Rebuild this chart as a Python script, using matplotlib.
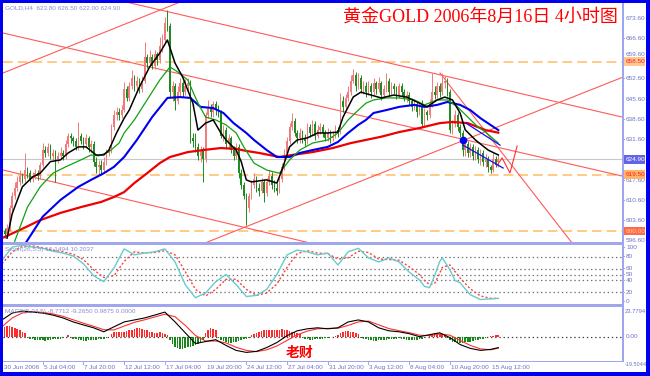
import matplotlib
matplotlib.use("Agg")
import matplotlib.pyplot as plt
from matplotlib.patches import Rectangle

plt.rcParams['lines.scale_dashes'] = False

# ---------------- data ----------------
date_labels = ["30 Jun 2006", "5 Jul 04:00", "7 Jul 20:00", "12 Jul 12:00", "17 Jul 04:00",
               "19 Jul 20:00", "24 Jul 12:00", "27 Jul 04:00", "31 Jul 20:00", "3 Aug 12:00",
               "8 Aug 04:00", "10 Aug 20:00", "15 Aug 12:00"]
price_ticks = [673.60, 666.60, 659.60, 652.60, 645.60, 638.60, 631.60, 617.60, 610.60, 603.60, 596.60]

opens = [599.5,600,599,601,608,612,615,617,619,618,621,620,618,619,620,619,
         623,628,627,629,626,627,625,626,627,626,630,633,632,631,629,633,
         631,630,632,629,630,624,622,623,621,624,627,628,636,640,641,640,
         642,649,646,650,653,650,652,649,652,660,658,660,657,661,659,664,
         666,672,671,648,650,645,648,651,648,650,651,632,631,629,626,628,
         625,640,643,641,644,642,641,633,635,630,632,628,626,629,620,616,
         612,608,612,616,618,615,614,617,613,617,619,616,615,614,618,622,
         627,631,636,638,634,632,634,632,631,636,634,637,633,635,636,634,
         632,634,632,633,635,634,645,643,646,648,652,654,650,653,649,650,
         648,650,648,651,649,651,647,649,652,648,650,649,647,650,648,646,
         647,645,643,644,641,643,637,641,640,644,648,647,650,648,651,652,
         648,635,637,640,636,634,628,630,627,629,626,628,625,627,624,625,
         622,621,625,623.8]
closes = [600,599,601,608,612,615,617,619,618,621,620,618,619,620,619,623,
          628,627,629,626,627,625,626,627,626,630,633,632,631,629,633,631,
          630,632,629,630,624,622,623,621,624,627,628,636,640,641,640,642,
          649,646,650,653,650,652,649,652,660,658,660,657,661,659,664,666,
          672,671,648,650,645,648,651,648,650,651,632,631,629,626,628,625,
          640,643,641,644,642,641,633,635,630,632,628,626,629,620,616,612,
          608,612,616,618,615,614,617,613,617,619,616,615,614,618,622,627,
          631,636,638,634,632,634,632,631,636,634,637,633,635,636,634,632,
          634,632,633,635,634,645,643,646,648,652,654,650,653,649,650,648,
          650,648,651,649,651,647,649,652,648,650,649,647,650,648,646,647,
          645,643,644,641,643,637,641,640,644,648,647,650,648,651,652,648,
          635,637,640,636,634,628,630,627,629,626,628,625,627,624,625,622,
          621,625,623,624.9]
highs = [601.5,601,602.5,609,613.5,617,619,621,620,627,622,621,620.5,621.5,621,624,
         630.4,629.5,630.5,630,628.5,628,627.5,629,628,631.5,634,634,633,632,637.7,634,
         632.5,633.5,633,631.5,631,625.5,624.5,624.5,625.5,628.5,629.5,637,642,643,642.5,643.5,
         651.5,650,651.5,655.6,654,653.5,653,653.5,665.3,661,662.6,661,662.5,662,667,668,
         674,676.4,672,652,651,650,653,652,652.5,653,652.2,634,633.9,630.5,629.5,629,
         641,645.3,644,645,645,643.5,642,636.5,636,633.5,633,629.5,630.5,630,621.5,617,
         613,613,617.5,620,619,616.5,618.5,618,618.5,621,620.5,617.5,616.5,619.5,623.5,628.5,
         632.5,637.5,640.8,639,635,635.5,635,633.5,637.5,637,638.4,638,636.5,637.5,637,635,
         635.5,635,634.5,636.5,636,647.7,646.5,647.5,650,654,656,655,654.5,654,652,651.5,
         652,651,653,652,653.2,652,650.5,654.6,653,651.5,651,650,651,651,649,648.5,
         648,646,645.5,645,644.5,645.3,642.5,642,645.5,654.6,650,651.5,651,654.5,653.5,653,
         649,638.5,641.8,641,637,635,631.5,631,630.5,630,629.5,629,628.5,628,626.5,626,
         623,627,626,626.5]
lows = [597.6,597.8,598,600,607,611,614,616,616.5,617,618.5,617,617,618,617.5,618,
        622,625.5,626,625,624.5,617,623.5,625,624.5,625,629,630.5,629.5,628,628,630,
        628.5,629,627.5,627,622.5,620,619.4,619.5,620,623,626,627,635,638.5,638.5,639,
        641,645,645,649,648.5,648,647.7,648,651,656.5,657,656,656,657.5,658,662,
        665,669,646,645,641.8,644,646.5,646.3,647,648.5,630.4,629,627.5,624.5,624,617,
        624,639,639.5,639.5,640,639.5,632,631,628.5,628.5,627,624.6,625,618.5,614.5,611,
        602,606.5,611,615,613.5,612,613,610.1,612,616,614.5,613.5,612.5,613,617,621,
        626,630,635,633,630.5,630.5,630.5,629.5,630,632.5,633,631.5,632,633.5,632.5,631,
        631,630.5,631,632,632.5,633.5,641,642,645,647,651,648.5,649,647.7,647.5,646.3,
        647,646,647,647.5,648,645.3,646,648,646.5,647,647.5,645.5,646,646.5,645,644.5,
        643.5,641.5,642,639.5,640,635.6,636,638.4,639,643,645.5,646,646.3,647,649.5,646.5,
        633.9,633.5,636,634.5,632.5,626,626,625.5,625.6,624.6,624.5,623.5,623,622.5,622,620.4,
        620,620.5,622,622]

# moving averages (bar index, value)
ma_black_idx = [2,4,8,12,15,19,23,26,30,33,37,40,42,45,48,50,54,58,62,65,68,71,75,77,80,83,86,88,92,94,96,98,
                104,108,110,113,116,120,124,128,132,134,138,141,145,149,154,159,164,167,171,174,177,180,182,186,191,195]
ma_black = [597.6,606,615.3,618.7,620,624,624.6,627,629.1,629.1,626.3,626.3,628,633.9,639,641.8,649.8,656.7,661.5,
            666,658,653.2,644.2,634.9,637.3,638.4,633.9,631.5,628,624,617.7,617,617.7,616.6,621.1,629.1,631.5,
            632.2,633.9,633.9,634.2,639.4,646.3,648,647,646,647,646.3,644.2,642.9,645.3,646.3,645.3,640.8,635,
            631.5,628,626.3]
ma_green_idx = [5,10,15,20,25,31,35,38,42,46,48,52,57,62,66,69,73,77,80,84,88,92,95,99,104,109,113,117,122,128,
                132,136,140,143,146,151,156,162,166,171,175,179,183,187,190,195]
ma_green = [596.5,608.3,615.3,620,622.2,624.6,626.3,626,627.4,630.4,633.9,638.4,645.3,652.2,656.7,655,652.2,644.2,
            639.4,638.4,636.7,633.9,629.1,623.5,621.1,620,624.6,628,630.4,631.5,633.9,638.4,641.8,644.2,645.3,646,
            646,645.3,643.6,645.3,645.3,642.9,639.4,636,634.2,630.4]
ma_blue_idx = [9,16,23,30,35,40,44,48,53,59,65,70,74,78,83,87,91,96,99,104,108,113,117,122,128,132,136,140,143,
               146,151,156,162,166,171,175,180,184,188,195]
ma_blue = [595.5,605,610.8,615.3,617.7,620,622.2,625.6,631.5,639.4,646,646.3,646,642.9,642.5,640.8,637.3,633.9,
           631.5,628,625.6,625.6,627,628,629.1,630.8,633.9,636.7,638.4,640.8,641.8,642.9,643.6,642.9,643.6,644.6,
           643.6,641.8,639,634.9]
ma_red_idx = [0,7,15,23,31,39,44,48,52,57,62,66,73,79,86,92,96,101,109,114,122,130,137,143,149,156,164,172,177,
              183,190,195]
ma_red = [597.6,600.4,603.8,606.3,608.3,610.1,611.8,613.5,616.6,620,623.5,625.6,627.3,628,628.7,628.4,627.7,627,
          625.6,626.3,627.3,628.7,630.4,631.5,632.6,634.2,635.6,637.3,637.7,637.3,634.9,634]

# horizontal levels
levels = [658.50, 619.50, 600.00]
level_labels = ["658.50", "619.50", "600.00"]
last_price = 624.90

# stochastic (26,5,5)
stoch_idx = [0,4,8,12,16,20,24,28,32,36,40,44,48,52,56,60,64,68,72,76,80,84,88,92,96,100,104,108,112,116,
             120,124,128,132,136,140,144,148,152,156,160,164,166,168,170,172,173,176,178,180,184,188,192,195]
stoch_main = [74,96,99,96,94,89,86,81,68,48,38,61,93,83,86,88,93,71,33,11,19,38,50,33,13,15,25,50,83,91,
              88,83,86,66,88,94,78,71,78,71,54,41,30,28,48,72,78,58,40,36,16,8,9,10]
stoch_sig = [68,88,97,98,95,91,88,84,75,58,45,48,72,88,86,87,90,83,55,25,14,25,42,42,25,15,19,34,62,85,
             90,86,85,76,78,89,87,76,75,74,63,50,40,33,35,52,62,66,55,44,26,14,10,10]
stoch_levels = [80, 60, 50, 40, 20]

# MACD
macd_idx = [0,4,8,12,16,20,24,28,32,36,40,44,48,52,56,60,64,68,72,76,80,84,88,92,96,100,104,108,112,116,
            120,124,128,132,136,140,144,148,152,156,160,164,168,172,176,180,184,188,192,195]
macd_main = [13.4,18.9,20.5,19.7,18.9,17.3,15,11.8,9.4,7.1,3.9,7.9,11.8,13.4,15,17.3,19.7,11.8,3.1,-5.5,
             -3.9,-2.4,-7,-11,-12.6,-11.8,-8.7,-4.7,0.8,4.7,6.3,7.1,6.3,7.1,11.8,13.4,11.8,7.1,4.7,3.9,
             2.4,0,1.6,3.1,-0.8,-6.3,-9.4,-11,-10.2,-8.77]
macd_sig = [8,15,19,20,19.5,18.2,16.3,13.5,10.8,8.3,5.6,5.4,8.5,11.5,13.5,15.8,18,16,9,1,
            -3.5,-3.5,-5,-8.5,-11,-12,-10.5,-7.5,-3,1.5,4.5,6.3,6.6,6.8,9,11.8,12.5,9.5,6.5,4.8,
            3.2,1.2,0.8,2.2,1.2,-3,-7,-9.8,-10.5,-9.27]
macd_hist = [6,8,8.7,8.5,8,7,6,5,4,3,-1,-1.5,-2,-2.5,-2.5,-3,
             -3,-3.5,-3,-2.5,-2,-2,-1.5,-1.5,-1,-0.5,1,-0.5,-1.5,-2,-2.5,-3,
             -3.5,-3.5,-3,-3,-2.5,-2.5,-2,-2,-1.5,-1,-0.5,2,3.5,4,4,3.5,
             4,4.5,5,5,6,7,7,6.5,5.5,5,4,3.5,3,3,3.5,3,
             2.5,1.5,-3,-6,-8,-9,-9.5,-9.5,-9,-8.5,-8,-7.5,-7,-6,-4.5,-3,
             3,5,7,6.5,5,-1,-2.5,-3.5,-4.5,-5,-5,-4.5,-4,-3.5,-3,-2,
             -1.5,-1,1,2,3,4,4.5,5,5.5,5.5,5.5,5,5,5.5,6,5.5,
             5,4.5,4,3.5,3,2,-1,-1.5,-2,-2.5,-2.5,-2,-2,-1.5,-1.5,-1,
             -1,-0.5,-0.5,0.5,1,3,4,4.5,4.5,4,3.5,3,2,-1,-1.5,-2,
             -2.5,-3,-3.5,-3.5,-3,-3,-2.5,-2.5,-2,-2,-1.5,-1.5,-1,-1.5,-2,-2.5,
             -3,-3,-2.5,-2.5,-2,-1.5,-1,-0.5,1.5,2.5,3,3,2.5,2,1.5,-1,
             -3,-4,-4.5,-5,-5,-5,-4.5,-4.5,-4,-3.5,-3,-2.5,-2,-1.5,-1,-0.5,
             0.5,0.8,1,1]
macd_top, macd_bottom = 23.7794, -19.5044

# trend lines: (bar index, price) endpoints
trend_lines = [((0.39, 668.42), (243.6, 619.04)),
               ((0.39, 688.97), (243.6, 639.41)),
               ((0.39, 621.12), (121.0, 595.91)),
               ((0.39, 654.61), (71.9, 679.8)),
               ((79.76, 595.91), (243.6, 653.05)),
               ((172.1, 654.61), (224.0, 595.91))]
zig_idx = [194.5, 196.5, 199.6, 202.4]
zig_val = [622.6, 625.3, 620.1, 629.4]
blue_chan = [((182.3, 637.3), (195.7, 629.7)), ((181.1, 629.7), (196.9, 621.8))]
dot_idx, dot_val = 181, 631.5

# ---------------- layout helpers ----------------
W, H = 650, 376
fig = plt.figure(figsize=(6.5, 3.76), dpi=100)
fig.patch.set_facecolor('white')

def px_axes(l, t, r, b):
    ax = fig.add_axes([l / W, 1 - b / H, (r - l) / W, (b - t) / H])
    ax.set_axis_off()
    ax.patch.set_alpha(0)
    return ax

def ftext(x, y, s, **kw):
    fig.text(x / W, 1 - y / H, s, **kw)

def frect(l, t, r, b, color, z=10):
    fig.patches.append(Rectangle((l / W, 1 - b / H), (r - l) / W, (b - t) / H,
                                 transform=fig.transFigure, facecolor=color,
                                 edgecolor='none', zorder=z))

X0, DX = 2.0, 2.545
LEFT, RIGHT = 3, 622
XLIM = ((LEFT - X0) / DX, (RIGHT - X0) / DX)
LABX = 626

def py(p):
    return 18 + (673.6 - p) * 2.896

AXIS_C = '#6e72c8'
SEP_C = '#9fa6ee'
TFONT = ['Liberation Sans', 'DejaVu Sans']
FS = 4.6

# ---------------- main price panel ----------------
ax = px_axes(LEFT, 3, RIGHT, 243)
ax.set_xlim(*XLIM)
ax.set_ylim(673.6 - 225 / 2.896, 673.6 + 15 / 2.896)

for lv in levels:
    ax.axhline(lv, color='#ffc67a', lw=1.3, ls=(0, (7, 3.6)), zorder=1)
ax.axhline(last_price, color='#c8c8c8', lw=0.8, zorder=1)

for (a, b) in trend_lines:
    ax.plot([a[0], b[0]], [a[1], b[1]], color='#ff5a5a', lw=0.8, zorder=2)

n = len(closes)
for i in range(n):
    o, c, h, l = opens[i], closes[i], highs[i], lows[i]
    col = '#f37a7a' if c >= o else '#1f8a1f'
    ax.plot([i, i], [l, h], color=col, lw=0.7, zorder=3, solid_capstyle='butt')
    bh = c - o if abs(c - o) > 0.3 else 0.3
    ax.bar(i, bh, bottom=o, width=0.62, color=col, edgecolor='none', zorder=3)

ax.plot(ma_red_idx, ma_red, color='#ee0000', lw=1.6, zorder=4)
ax.plot(ma_blue_idx, ma_blue, color='#0000ee', lw=1.5, zorder=4)
ax.plot(ma_green_idx, ma_green, color='#12a012', lw=0.9, zorder=4)
ax.plot(ma_black_idx, ma_black, color='#000000', lw=1.1, zorder=5)

ax.plot(zig_idx, zig_val, color='#ff3030', lw=0.8, zorder=5)
for (a, b) in blue_chan:
    ax.plot([a[0], b[0]], [a[1], b[1]], color='#1010ff', lw=0.9, zorder=5)
ax.plot([dot_idx], [dot_val], 'o', color='#0000ff', ms=4.5, zorder=6)

# ---------------- stochastic panel ----------------
ax2 = px_axes(LEFT, 245, RIGHT, 304)
ax2.set_xlim(*XLIM)
ax2.set_ylim(0.5, 99.5)
for lv in stoch_levels:
    ax2.axhline(lv, color='#707070', lw=0.9, ls=(0, (1, 2)), zorder=1)
ax2.plot(stoch_idx, stoch_main, color='#66cccc', lw=1.0, zorder=3)
ax2.plot(stoch_idx, stoch_sig, color='#ff4040', lw=1.0, ls=(0, (1.5, 1.5)), zorder=2)

# ---------------- MACD panel ----------------
ax3 = px_axes(LEFT, 307, RIGHT, 361)
ax3.set_xlim(*XLIM)
ax3.set_ylim(macd_bottom, macd_top)
ax3.axhline(0, color='#404040', lw=0.9, ls=(0, (1, 2)), zorder=1)
hcols = ['#ff2a2a' if v > 0 else '#188818' for v in macd_hist]
ax3.bar(range(len(macd_hist)), macd_hist, width=0.62, color=hcols, edgecolor='none', zorder=2)
ax3.plot(macd_idx, macd_sig, color='#ff3030', lw=0.8, zorder=3)
ax3.plot(macd_idx, macd_main, color='#000000', lw=0.8, zorder=4)

# ---------------- frame, separators, axes ----------------
frect(3, 242, RIGHT, 245, SEP_C)
frect(3, 304, RIGHT, 307, SEP_C)
frect(3, 360.5, RIGHT + 1, 362, SEP_C)
frect(RIGHT, 3, RIGHT + 1.5, 362, SEP_C)
# window border
frect(0, 0, W, 2.5, '#0000f0', 20)
frect(0, 0, 3, H, '#0000f0', 20)
frect(0, 372, W, H, '#0000f0', 20)
frect(646, 0, W, H, '#0000f0', 20)

# price axis labels
for p in price_ticks:
    y = py(p)
    frect(RIGHT, y - 0.4, RIGHT + 3, y + 0.4, SEP_C)
    ty = y
    if abs(p - 659.60) < 0.01:
        ty = y - 4.5   # peeks out above the level box
    ftext(LABX, ty, f"{p:.2f}", fontsize=FS, color=AXIS_C, va='center', ha='left', family=TFONT)

# level boxes
box_styles = [('#ffc890', '#ff2020'), ('#ffb46a', '#ff1a1a'), ('#ff6a4a', '#ffd29a')]
for lv, lab, (fc, tc) in zip(levels, level_labels, box_styles):
    y = py(lv)
    frect(624, y - 4.3, 645, y + 4.3, fc, 15)
    ftext(LABX, y, lab, fontsize=FS, color=tc, va='center', ha='left', family=TFONT, zorder=16)
y = py(last_price)
frect(624, y - 4.5, 645, y + 4.5, '#6464e6', 15)
ftext(LABX, y, f"{last_price:.2f}", fontsize=FS, color='white', va='center', ha='left', family=TFONT, zorder=16)

# stochastic axis labels
for v in [100, 80, 60, 50, 40, 20, 0]:
    y = 304.7 - v * 0.6
    y = min(max(y, 247.5), 301.5)
    frect(RIGHT, y - 0.4, RIGHT + 3, y + 0.4, SEP_C)
    ftext(LABX, y, str(v), fontsize=FS, color=AXIS_C, va='center', ha='left', family=TFONT)
# MACD axis labels
ftext(LABX - 1, 311.5, "23.7794", fontsize=4.2, color=AXIS_C, va='center', ha='left', family=TFONT)
ftext(LABX, 337, "0.00", fontsize=FS, color=AXIS_C, va='center', ha='left', family=TFONT)
ftext(LABX - 1.5, 364, "-19.5044", fontsize=4.0, color=AXIS_C, va='center', ha='left', family=TFONT)
frect(RIGHT, 336.6, RIGHT + 3, 337.4, SEP_C)

# date labels
for k, lab in enumerate(date_labels):
    x = X0 + DX * 16 * k
    frect(x, 361, x + 0.8, 364.5, SEP_C)
    ftext(max(x, 3.5) + 1, 367.5, lab, fontsize=FS, color=AXIS_C, va='center', ha='left', family=TFONT)

# panel captions
ftext(5, 7.5, "GOLD,H4  623.80 626.50 622.00 624.90", fontsize=FS, color='#8a8ad0', va='center',
      ha='left', family=TFONT)
ftext(5, 250, "Stoch(26,5,5) 10.1494 10.2037", fontsize=FS, color='#8a8ad0', va='center', ha='left',
      family=TFONT)
ftext(5, 312, "MACD(5,34,5) -8.7712 -9.2650 0.9875 0.0000", fontsize=FS, color='#8a8ad0', va='center',
      ha='left', family=TFONT)

# title and signature
ftext(343, 17, "黄金GOLD 2006年8月16日 4小时图", fontsize=13, color='#ff0000', va='center', ha='left',
      family=['Liberation Serif', 'Noto Sans CJK SC'])
ftext(286, 352.5, "老财", fontsize=10, color='#ff0000', va='center', ha='left', weight='bold',
      family=['Noto Sans CJK SC'])

fig.savefig('out.png', dpi=100)
